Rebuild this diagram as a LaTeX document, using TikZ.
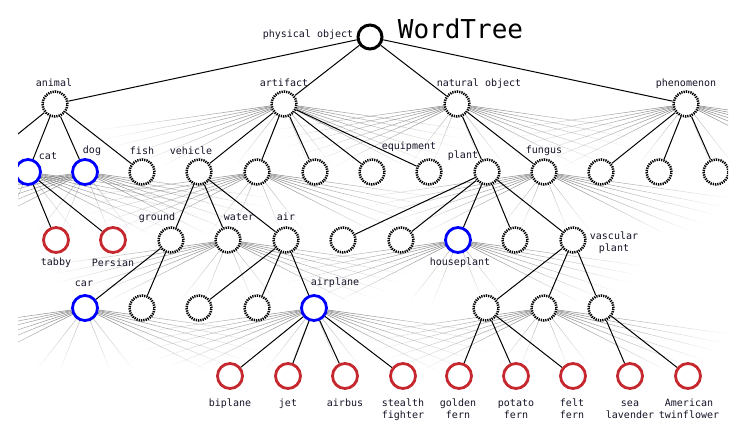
\documentclass[tikz,border=0pt]{standalone}
\usepackage{fontspec}
\setmonofont{DejaVu Sans Mono}
\usetikzlibrary{fadings,backgrounds}
\definecolor{nodered}{RGB}{198,40,48}
\definecolor{nodeblue}{RGB}{0,0,255}
\definecolor{labelink}{RGB}{20,20,40}
\tikzfading[name=fadeleft, left color=transparent!100, right color=transparent!20]
\tikzfading[name=faderight, left color=transparent!20, right color=transparent!100]
\tikzfading[name=fadedown, top color=transparent!55, bottom color=transparent!100]
\newcommand\twol[2]{\begin{tabular}[t]{@{}c@{}}#1\\#2\end{tabular}}
\begin{document}
\begin{tikzpicture}[x=1pt,y=-1pt,
  nodebase/.style={circle, inner sep=0pt, minimum size=25pt, fill=white},
  rootnode/.style={nodebase, draw=black, line width=3pt, minimum size=24pt},
  dotnode/.style={nodebase, draw=black, line width=2.5pt, dash pattern=on 1.3pt off 1.0pt},
  bluenode/.style={nodebase, draw=nodeblue, line width=2.8pt},
  rednode/.style={nodebase, draw=nodered, line width=2.8pt},
  lbl/.style={font=\ttfamily\fontsize{10}{12}\selectfont, text=labelink, inner sep=0pt, anchor=base},
  treeedge/.style={line width=1pt, black},
  fanline/.style={line width=0.55pt, black!60}]
\useasboundingbox (0,0) rectangle (742,429);
\begin{scope}
\clip (18,0) rectangle (728,429);
% level 0 and 1
\node[rootnode] (root) at (370,37) {};
\node[dotnode] (animal) at (55,104) {};
\node[dotnode] (artifact) at (284,104) {};
\node[dotnode] (natobj) at (457,104) {};
\node[dotnode] (phen) at (686,104) {};
% level 2
\node[bluenode] (cat) at (28,172) {};
\node[bluenode] (dog) at (85,172) {};
\node[dotnode] (fish) at (142,172) {};
\node[dotnode] (vehicle) at (199,172) {};
\node[dotnode] (n2e) at (257,172) {};
\node[dotnode] (n2f) at (315,172) {};
\node[dotnode] (n2g) at (372,172) {};
\node[dotnode] (equip) at (429,172) {};
\node[dotnode] (plant) at (487,172) {};
\node[dotnode] (fungus) at (544,172) {};
\node[dotnode] (n2k) at (601,172) {};
\node[dotnode] (n2l) at (659,172) {};
\node[dotnode] (n2m) at (716,172) {};
\coordinate (offl) at (-29,172);
% level 3
\node[rednode] (tabby) at (56,240) {};
\node[rednode] (persian) at (113,240) {};
\node[dotnode] (ground) at (171,240) {};
\node[dotnode] (water) at (228,240) {};
\node[dotnode] (air) at (286,240) {};
\node[dotnode] (n3f) at (343,240) {};
\node[dotnode] (n3g) at (401,240) {};
\node[bluenode] (houseplant) at (458,240) {};
\node[dotnode] (n3i) at (515,240) {};
\node[dotnode] (vascular) at (573,240) {};
% level 4
\node[bluenode] (car) at (85,308) {};
\node[dotnode] (n4b) at (142,308) {};
\node[dotnode] (n4c) at (199,308) {};
\node[dotnode] (n4d) at (257,308) {};
\node[bluenode] (airplane) at (314,308) {};
\node[dotnode] (n4f) at (486,308) {};
\node[dotnode] (n4g) at (544,308) {};
\node[dotnode] (n4h) at (601,308) {};
% level 5
\node[rednode] (biplane) at (230,376) {};
\node[rednode] (jet) at (288,376) {};
\node[rednode] (airbus) at (345,376) {};
\node[rednode] (stealth) at (403,376) {};
\node[rednode] (golden) at (459,376) {};
\node[rednode] (potato) at (516,376) {};
\node[rednode] (felt) at (573,376) {};
\node[rednode] (sea) at (630,376) {};
\node[rednode] (american) at (688,376) {};
\end{scope}
% labels
\node[lbl] (t-root) at (308,37.5) {physical object};
\node[lbl, font=\ttfamily\fontsize{26}{30}\selectfont, text=black] (title) at (460.5,38) {WordTree};
\node[lbl] (t-animal) at (54,86) {animal};
\node[lbl] (t-artifact) at (284,86) {artifact};
\node[lbl] (t-natobj) at (479,86) {natural object};
\node[lbl] (t-phen) at (686,86) {phenomenon};
\node[lbl] (t-cat) at (48,159) {cat};
\node[lbl] (t-dog) at (92,153.5) {dog};
\node[lbl] (t-fish) at (142,154) {fish};
\node[lbl] (t-vehicle) at (191,154.5) {vehicle};
\node[lbl] (t-equip) at (409,149.5) {equipment};
\node[lbl] (t-plant) at (463,158.5) {plant};
\node[lbl] (t-fungus) at (544,153.5) {fungus};
\node[lbl] (t-ground) at (157,220.5) {ground};
\node[lbl] (t-water) at (239,220.5) {water};
\node[lbl] (t-air) at (286,220.5) {air};
\node[lbl] (t-tabby) at (56,265.5) {tabby};
\node[lbl] (t-persian) at (113,266) {Persian};
\node[lbl] (t-houseplant) at (460,265.5) {houseplant};
\node[lbl] (t-vascular) at (614,239.5) {\twol{vascular}{plant}};
\node[lbl] (t-car) at (84,286) {car};
\node[lbl] (t-airplane) at (335,285.5) {airplane};
\node[lbl] (t-biplane) at (230,406.5) {biplane};
\node[lbl] (t-jet) at (288,406.5) {jet};
\node[lbl] (t-airbus) at (345,406.5) {airbus};
\node[lbl] (t-stealth) at (403,406.5) {\twol{stealth}{fighter}};
\node[lbl] (t-golden) at (458,406.5) {\twol{golden}{fern}};
\node[lbl] (t-potato) at (516,406.5) {\twol{potato}{fern}};
\node[lbl] (t-felt) at (572,406.5) {\twol{felt}{fern}};
\node[lbl] (t-sea) at (630,406.5) {\twol{sea}{lavender}};
\node[lbl] (t-american) at (689,406.5) {\twol{American}{twinflower}};
% connectors
\begin{pgfonlayer}{background}
\begin{scope}
\clip (18,0) rectangle (728,429);
\foreach \n in {artifact,natobj,phen,cat,dog,n2e,fungus,water,houseplant,car,airplane,n4g} {
  \foreach \a/\l in {8/190,11/185,14/180,18/170,22/160,27/140} {
    \draw[fanline, path fading=fadeleft] (\n) -- ++(180+\a:\l pt);
    \draw[fanline, path fading=faderight] (\n) -- ++(-\a:\l pt);
  }
  \foreach \a/\l in {52/80,68/70} {
    \draw[fanline, path fading=fadedown] (\n) -- ++(180+\a:\l pt);
    \draw[fanline, path fading=fadedown] (\n) -- ++(-\a:\l pt);
  }
}
\foreach \p/\c in {root/animal,root/artifact,root/natobj,root/phen,
  animal/offl,animal/cat,animal/dog,animal/fish,
  artifact/vehicle,artifact/n2e,artifact/n2f,artifact/n2g,artifact/equip,
  natobj/plant,natobj/fungus,
  phen/n2k,phen/n2l,phen/n2m,
  cat/tabby,cat/persian,
  vehicle/ground,vehicle/water,vehicle/air,
  plant/n3f,plant/n3g,plant/houseplant,plant/n3i,plant/vascular,
  ground/car,ground/n4b,
  air/n4c,air/n4d,air/airplane,
  vascular/n4f,vascular/n4g,vascular/n4h,
  airplane/biplane,airplane/jet,airplane/airbus,airplane/stealth,
  n4f/golden,n4f/potato,n4f/felt,
  n4h/sea,n4h/american} {
  \draw[treeedge] (\p) -- (\c);
}
\end{scope}
\end{pgfonlayer}
\end{tikzpicture}
\end{document}
